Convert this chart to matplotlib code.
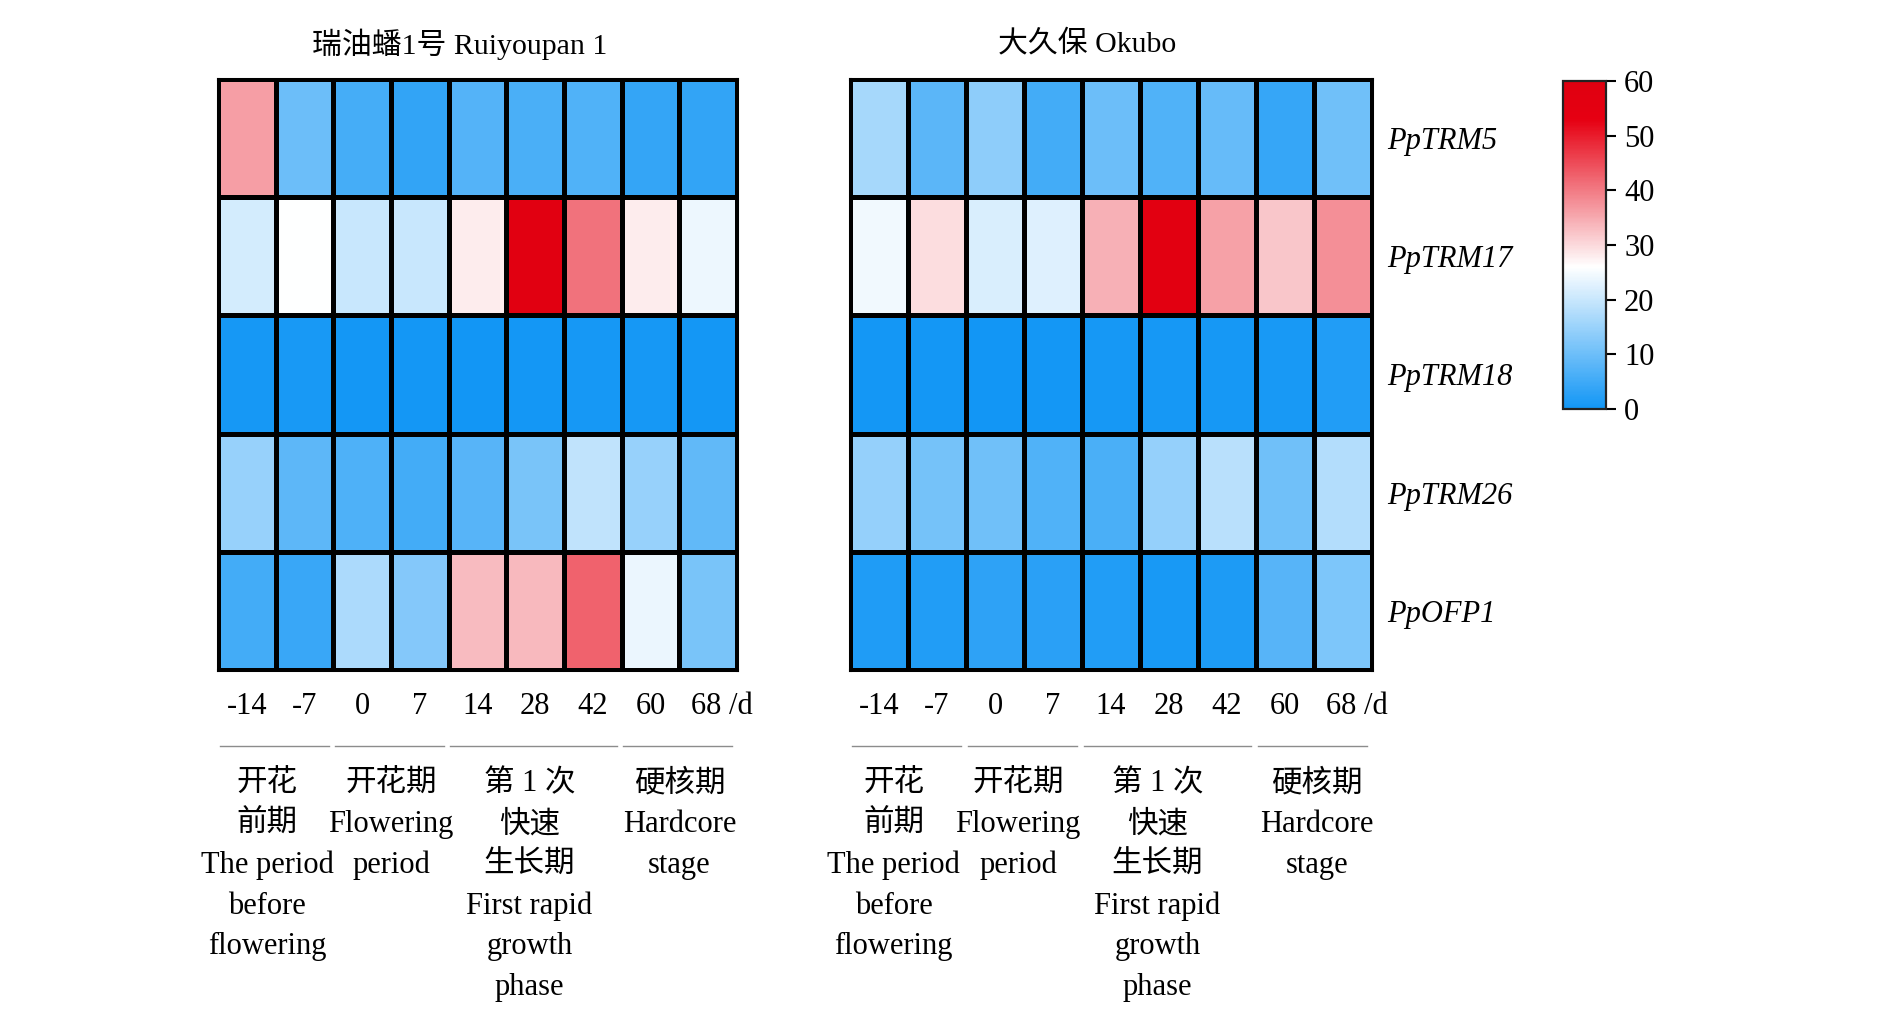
import numpy as np
import matplotlib
matplotlib.use("Agg")
import matplotlib.pyplot as plt
from matplotlib.colors import LinearSegmentedColormap
from matplotlib.transforms import blended_transform_factory
from matplotlib.lines import Line2D

plt.rcParams['font.family'] = ['Liberation Serif', 'Noto Sans CJK SC']

# ---------------- data ----------------
days = ["-14", "-7", "0", "7", "14", "28", "42", "60", "68 /d"]
genes = ["PpTRM5", "PpTRM17", "PpTRM18", "PpTRM26", "PpOFP1"]
titles = ["瑞油蟠1号 Ruiyoupan 1", "大久保 Okubo"]

ruiyoupan = [
    [36.1, 10.0, 5.7, 3.6, 7.4, 6.3, 7.0, 3.9, 3.6],
    [21.1, 26.0, 20.0, 20.0, 27.9, 58.0, 41.0, 27.9, 24.1],
    [0.5, 0.8, 0.3, 0.4, 0.2, 0.3, 0.5, 0.6, 0.4],
    [14.7, 8.4, 6.7, 5.5, 7.6, 11.3, 19.1, 14.7, 8.8],
    [5.5, 4.4, 17.1, 12.5, 33.1, 33.5, 42.6, 23.8, 11.4],
]
okubo = [
    [16.2, 8.2, 13.8, 5.5, 9.9, 6.8, 9.2, 4.2, 10.5],
    [24.4, 29.7, 21.9, 22.4, 34.4, 57.0, 36.0, 31.9, 37.9],
    [0.3, 0.4, 0.2, 0.3, 0.5, 0.6, 0.7, 0.9, 1.8],
    [14.3, 10.8, 10.5, 6.8, 6.3, 14.3, 18.4, 10.5, 17.8],
    [1.5, 1.8, 3.2, 2.7, 1.8, 0.9, 1.3, 7.5, 11.8],
]
cbar_ticks = [0, 10, 20, 30, 40, 50, 60]

groups = [(0, 1), (2, 3), (4, 6), (7, 8)]
group_labels = [
    ["开花", "前期", "The period", "before", "flowering"],
    ["开花期", "Flowering", "period"],
    ["第 1 次", "快速", "生长期", "First rapid", "growth", "phase"],
    ["硬核期", "Hardcore", "stage"],
]

# ---------------- style ----------------
W, H = 1890, 1033
cmap = LinearSegmentedColormap.from_list(
    "bwr_custom",
    [(0.0, "#1296F5"), (26 / 60, "#FFFFFF"), (53 / 60, "#E60012"), (1.0, "#DF0010")],
)
vmin, vmax = 0, 60
FS = 22

fig = plt.figure(figsize=(W / 100, H / 100), dpi=100)


def box(l, t, r, b):
    return [l / W, 1 - b / H, (r - l) / W, (b - t) / H]


top, bottom = 79, 670
hh = bottom - top
ax_pos = [box(218, top, 737, bottom), box(850, top, 1372, bottom)]
title_x = [0.465, 0.455]
group_x = [[0.85, 3.0, 5.4, 8.0], [0.75, 2.9, 5.3, 8.05]]
datasets = [ruiyoupan, okubo]

mesh = None
for k, (data, pos) in enumerate(zip(datasets, ax_pos)):
    ax = fig.add_axes(pos)
    arr = np.array(data)
    mesh = ax.pcolormesh(arr, cmap=cmap, vmin=vmin, vmax=vmax,
                         edgecolors="black", linewidth=2.2)
    ax.set_xlim(0, len(days))
    ax.set_ylim(len(genes), 0)
    for s in ax.spines.values():
        s.set_linewidth(2.2)
    ax.set_xticks([])
    ax.set_yticks([])
    if k == 1:
        ax.yaxis.tick_right()
        ax.set_yticks(np.arange(len(genes)) + 0.5)
        ax.set_yticklabels(genes, fontstyle="italic", fontsize=FS)
        ax.tick_params(axis="y", length=0, pad=11)

    ax.text(title_x[k], 1 + (top - 44) / hh, titles[k], transform=ax.transAxes,
            ha="center", va="center", fontsize=21.5)

    tr = blended_transform_factory(ax.transData, ax.transAxes)
    ytick = (bottom - 706) / hh
    for i, d in enumerate(days):
        if i == len(days) - 1:
            ax.text(i + 0.5 - 0.3, ytick, d, transform=tr,
                    ha="left", va="center", fontsize=FS)
        else:
            ax.text(i + 0.5, ytick, d, transform=tr,
                    ha="center", va="center", fontsize=FS)

    yline = (bottom - 746) / hh
    for (s, e), lines, xc in zip(groups, group_labels, group_x[k]):
        ax.add_artist(Line2D([s + 0.03, e + 1 - 0.08], [yline, yline],
                             transform=tr, color="#8c8c8c", linewidth=1.0,
                             clip_on=False))
        for j, t in enumerate(lines):
            ax.text(xc, (bottom - (784 + 40.7 * j)) / hh, t,
                    transform=tr, ha="center", va="center", fontsize=FS)

# colorbar
cax = fig.add_axes(box(1573 - 10, 81, 1616 - 10, 409))
cb = fig.colorbar(mesh, cax=cax, ticks=cbar_ticks)
cb.outline.set_linewidth(1.6)
cb.outline.set_edgecolor("#222222")
cax.tick_params(length=7, width=1.5, labelsize=22, pad=6)

fig.savefig("out.png", dpi=100)
